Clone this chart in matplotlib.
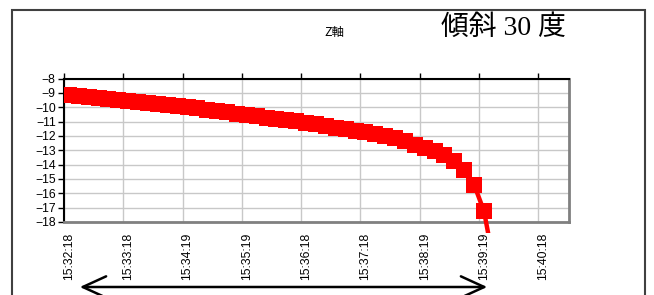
import matplotlib
matplotlib.use("Agg")
import matplotlib.pyplot as plt
from matplotlib.patches import Rectangle, FancyArrowPatch
import numpy as np

# Z軸 readings, one every ~10 s from 15:32:18
z_values = [-9.17, -9.23, -9.30, -9.37, -9.43, -9.50, -9.56, -9.63, -9.70, -9.77,
            -9.84, -9.92, -10.00, -10.08, -10.17, -10.26, -10.35, -10.45, -10.55, -10.64,
            -10.73, -10.82, -10.90, -10.99, -11.08, -11.18, -11.30, -11.42, -11.54, -11.65,
            -11.76, -11.88, -12.00, -12.15, -12.35, -12.60, -12.85, -13.05, -13.30, -13.72,
            -14.35, -15.40, -17.25, -20.90]
n_categories = 51
tick_every = 6
tick_labels = ['15:32:18', '15:33:18', '15:34:19', '15:35:19', '15:36:18',
               '15:37:18', '15:38:19', '15:39:19', '15:40:18']
y_ticks = list(range(-18, -7))

plt.rcParams['font.family'] = ['Liberation Sans', 'Noto Sans CJK JP', 'DejaVu Sans']

fig = plt.figure(figsize=(6.54, 2.95), dpi=100)

# outer chart frame
fig.patches.append(Rectangle((12 / 654, -0.2), 633 / 654, 1.2 - 10 / 295,
                             transform=fig.transFigure, fill=False,
                             edgecolor='#404040', linewidth=1.5))

ax = fig.add_axes([64 / 654, 1 - 222 / 295, 505 / 654, 143.5 / 295])

x = np.arange(len(z_values)) + 0.5
line, = ax.plot(x, z_values, color='#ff0000', linewidth=3.2, marker='s',
                markersize=11.8, markeredgewidth=0, zorder=5)
# let the falling line run a little past the bottom border
clip = Rectangle((0, -11 / 143.5), 1, 1 + 11 / 143.5, transform=ax.transAxes)
line.set_clip_path(clip)

ax.set_xlim(0, n_categories + 0.1)
ax.set_ylim(-18, -8)

major = np.arange(0, n_categories, tick_every)
ax.set_xticks(major)
ax.set_xticks(major + 0.5, minor=True)
ax.set_xticklabels(tick_labels, minor=True, rotation=90, fontsize=8.8)
ax.tick_params(axis='x', which='major', top=True, bottom=False,
               labelbottom=False, labeltop=False, direction='out',
               length=4, width=1, color='black')
ax.tick_params(axis='x', which='minor', top=False, bottom=True,
               labelbottom=True, length=0, pad=7.5)

ax.set_yticks(y_ticks)
ax.tick_params(axis='y', direction='out', length=4, width=1, labelsize=8.8, pad=2)

ax.grid(True, which='major', color='#c8c8c8', linewidth=1)
ax.set_axisbelow(True)

for side in ('top', 'left'):
    ax.spines[side].set_color('black')
    ax.spines[side].set_linewidth(1.5)
for side in ('bottom', 'right'):
    ax.spines[side].set_color('#808080')
    ax.spines[side].set_linewidth(2)

fig.text(334 / 654, 1 - 32 / 295, 'Z軸', fontsize=9, ha='center', va='center',
         family=['Noto Sans CJK JP', 'DejaVu Sans'])
fig.text(441 / 654, 1 - 28 / 295, '傾斜 30 度', fontsize=20, ha='left', va='center',
         family=['Liberation Serif', 'Noto Sans CJK JP'])

# double arrow under the time axis
fig.add_artist(FancyArrowPatch(
    (77 / 654, 1 - 287 / 295), (490 / 654, 1 - 287 / 295),
    transform=fig.transFigure, arrowstyle='<->,head_length=7,head_width=3.2',
    mutation_scale=2.4, color='black', linewidth=1.8))

fig.savefig('out.png', dpi=100)
